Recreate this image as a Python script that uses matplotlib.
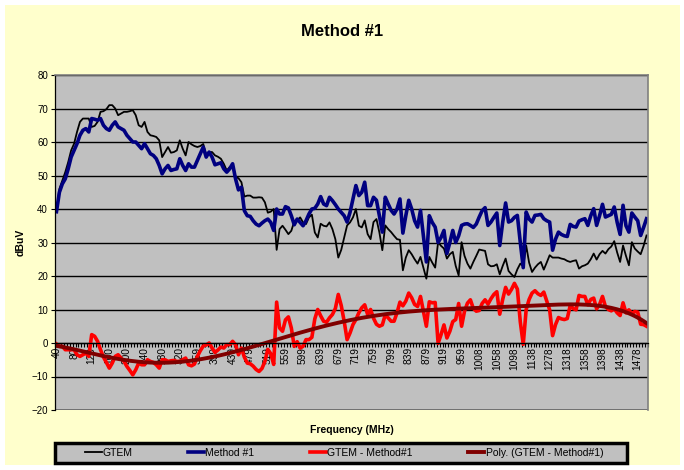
import numpy as np
import matplotlib
matplotlib.use("Agg")
import matplotlib.pyplot as plt
from matplotlib.patches import Rectangle

plt.rcParams["font.family"] = ["Liberation Sans", "DejaVu Sans"]

# frequency labels shown on the category axis (one every 6 points)
freq_labels = ["40", "80", "120", "160", "200", "240", "280", "320", "359", "399",
               "439", "479", "519", "559", "599", "639", "679", "719", "759", "799",
               "839", "879", "919", "959", "1008", "1058", "1098", "1138", "1278", "1318",
               "1358", "1398", "1438", "1478"]
label_step = 6

gtem = [39.5, 46, 48.5, 51, 54, 57.5, 59.5, 63, 66, 67,
        67, 67, 64.5, 64.8, 66, 69, 69.2, 69.8, 71, 71,
        70, 68, 68.5, 69, 69, 69.2, 69.5, 68, 65, 64.5,
        66, 63, 62, 61.8, 61.5, 60.5, 55.5, 57, 58.5, 56.8,
        57, 57.5, 60.5, 58, 56, 60, 59.3, 58.8, 58.5, 58.8,
        59.4, 56.1, 57, 57, 56, 55.6, 55, 53.5, 51.5, 52.5,
        53, 49.5, 49.2, 48, 43.7, 44, 44, 43.4, 43.4, 43.5,
        43.4, 42, 38.9, 39.2, 40, 27.8, 34, 35, 33.8, 32.5,
        33.5, 36.3, 36.6, 37.5, 36, 35.5, 37.5, 38.3, 33, 31.5,
        35.6, 35, 34.8, 36, 34, 31, 25.5, 27.8, 31.5, 35.1,
        36, 37.5, 40, 35, 34.5, 36.6, 32.5, 31, 36.1, 37,
        33, 27.7, 35.1, 34, 33.1, 32, 31, 30.8, 21.7, 25.5,
        27.7, 26.5, 25, 23.7, 25.7, 22.5, 19.2, 25.7, 24, 22.5,
        30.1, 29, 28.2, 25.2, 26.5, 27.2, 23, 20.2, 30.1, 26,
        23.7, 22.2, 24.2, 26, 27.9, 27.7, 27.5, 23.5, 22.9, 23,
        23.5, 20.5, 23, 25.2, 21.5, 20.5, 19.7, 22, 23.7, 22.9,
        29.1, 24, 21.2, 22.5, 23.5, 24.2, 21.9, 24, 26.2, 25.5,
        25.5, 25.5, 25.2, 25, 24.5, 24.2, 24.5, 24.7, 22.2, 22.9,
        23.2, 23.7, 25, 26.7, 24.9, 26.5, 27.5, 26.7, 28, 28.8,
        30.4, 27, 24.2, 29.1, 26, 23.2, 30.1, 28.2, 27.3, 26.5,
        29, 32.1]

method1 = [39.2, 45, 47.5, 49, 52, 55.5, 57.5, 59.5, 62, 63.5,
           64, 63, 67, 66.8, 66.5, 67, 65, 64, 63.5, 65,
           66, 64.5, 64, 63.5, 62, 61, 60, 60, 59, 58,
           59.5, 58, 56.5, 56, 55, 53, 50.5, 52, 53, 51.5,
           51.8, 52, 55, 53, 51.5, 53.5, 52.5, 52.5, 54.5, 56.5,
           58.5, 55.5, 57, 55.5, 53.2, 53.5, 53.8, 52, 51, 52,
           53.5, 49, 45.7, 46.5, 39.5, 38, 37.8, 36.5, 35.5, 35,
           35.8, 36.5, 37, 36, 33.6, 40, 38.5, 38.5, 40.7, 40.3,
           38, 35.3, 37, 36, 35, 36.5, 38.5, 40, 40.2, 41.5,
           43.7, 41.5, 41, 43.5, 42.5, 41.3, 40, 39, 38, 36.1,
           39, 43, 47, 44, 45, 48, 41, 41, 43.5, 42.6,
           38, 33.1, 43.5, 41.5, 39.6, 38.5, 40, 43, 32.8, 38,
           42.6, 40, 36.5, 34.6, 39.6, 32, 24.2, 38, 36, 34.6,
           30, 31.5, 33.6, 26.7, 30, 33.6, 30, 32, 35.1, 35.5,
           35.6, 35.1, 34.5, 35.5, 37.6, 39.5, 40.4, 35.1, 36.1, 37.5,
           38.8, 29.1, 36, 41.8, 36.1, 36.5, 37.5, 38.1, 30, 22.5,
           39.1, 37, 36.1, 38.1, 38.2, 38.4, 37.1, 36.5, 36.1, 27.7,
           31, 33.1, 32.4, 32, 31.8, 35.4, 34.8, 34.6, 36.4, 36.8,
           37.1, 35.1, 38, 40.1, 35.1, 38, 41.4, 37.6, 38, 38.4,
           40.6, 36, 32.4, 41.1, 35, 33.1, 38.8, 37.6, 36.5, 32.1,
           34.5, 37.1]

gtem = np.array(gtem)
method1 = np.array(method1)
diff = method1 - gtem
n = len(gtem)
idx = np.arange(n)

# Excel-style polynomial trendline (6th order) on the difference series
xn = (idx - idx.mean()) / idx.std()
trend = np.polyval(np.polyfit(xn, diff, 6), xn)

W, H = 684, 470
fig = plt.figure(figsize=(W / 100, H / 100), dpi=100, facecolor="white")
fig.patches.append(Rectangle((5 / W, 5 / H), 675 / W, 460 / H, transform=fig.transFigure,
                             facecolor="#FFFFCC", edgecolor="none", zorder=-10))

ax = fig.add_axes([55 / W, 60 / H, 593 / W, 335 / H])
ax.set_facecolor("#C0C0C0")

ax.plot(idx, gtem, color="black", lw=1.3, label="GTEM")
ax.plot(idx, method1, color="#000080", lw=2.6, label="Method #1")
ax.plot(idx, diff, color="#FF0000", lw=2.6, label="GTEM - Method#1")
ax.plot(idx, trend, color="#800000", lw=2.8, label="Poly. (GTEM - Method#1)")

ax.set_xlim(-0.5, n - 0.5)
ax.set_ylim(-20, 80)
ax.set_yticks(range(-20, 81, 10))
ax.yaxis.grid(True, color="black", lw=1.0)
ax.set_axisbelow(True)
ax.tick_params(axis="y", labelsize=7, length=3, width=0.8, pad=2)

ax.spines["bottom"].set_position(("data", 0))
for s in ["top", "right"]:
    ax.spines[s].set_color("#808080")
    ax.spines[s].set_linewidth(1.2)
ax.spines["left"].set_linewidth(0.9)
ax.spines["bottom"].set_linewidth(0.9)
ax.axhline(-20, color="#808080", lw=1.8, zorder=0.5)

ax.set_xticks(np.arange(len(freq_labels)) * label_step)
ax.set_xticklabels(freq_labels, rotation=90, fontsize=7.3)
ax.set_xticks(np.arange(n + 1) - 0.5, minor=True)
ax.tick_params(axis="x", which="major", length=0, pad=3)
ax.tick_params(axis="x", which="minor", length=3, width=0.8, direction="out")

ax.set_ylabel("dBuV", fontsize=7.5, fontweight="bold", labelpad=4)
ax.set_xlabel("Frequency (MHz)", fontsize=7.5, fontweight="bold")
ax.xaxis.set_label_coords(0.5, -0.045)

fig.text(342 / W, 1 - 32 / H, "Method #1", ha="center", va="center",
         fontsize=12, fontweight="bold")

# legend box drawn separately so the entries can sit inset from its border
fig.patches.append(Rectangle((55 / W, 7 / H), 572 / W, 20 / H, transform=fig.transFigure,
                             facecolor="#C0C0C0", edgecolor="black", lw=2.5, zorder=5))
leg = fig.legend(loc="center", bbox_to_anchor=(76 / W, 7 / H, 536 / W, 20 / H),
                 mode="expand", ncol=4, fontsize=7.5, frameon=False,
                 handlelength=1.6, handletextpad=0.1, borderpad=0.35)
leg.set_zorder(6)

fig.savefig("out.png", dpi=100, facecolor=fig.get_facecolor())
